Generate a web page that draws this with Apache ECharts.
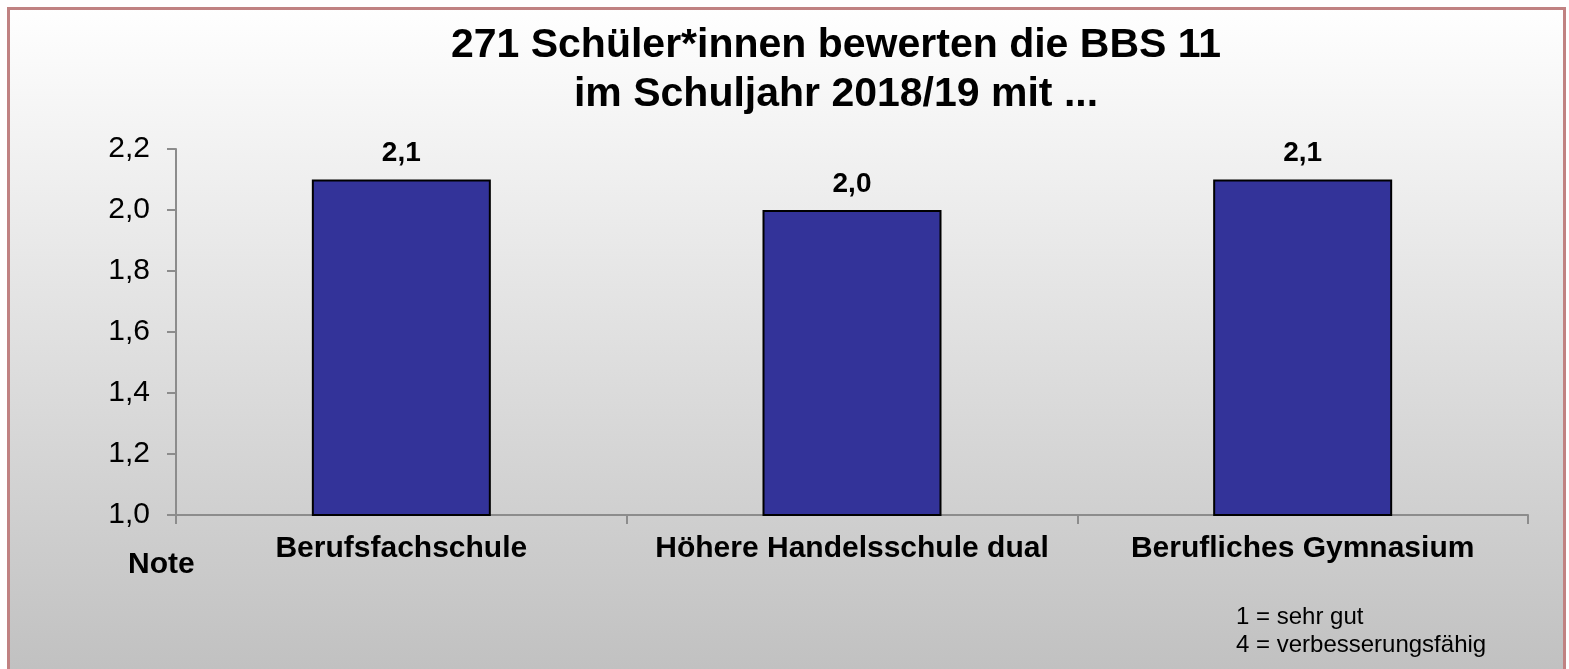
<!DOCTYPE html>
<html>
<head>
<meta charset="utf-8">
<script src="https://cdn.jsdelivr.net/npm/echarts@6/dist/echarts.min.js"></script>
<style>
  html, body { margin: 0; padding: 0; background: #fff; }
  #chart { width: 1569px; height: 669px; }
</style>
</head>
<body>
<div id="chart"></div>
<script>
// Schulbewertung BBS 11

var schulformen = ['Berufsfachschule', 'Höhere Handelsschule dual', 'Berufliches Gymnasium'];
var noten = [2.1, 2.0, 2.1];
var titelZeilen = ['271 Schüler*innen bewerten die BBS 11', 'im Schuljahr 2018/19 mit ...'];
var legende = ['1 = sehr gut', '4 = verbesserungsfähig'];

var fmt = function (v) { return Number(v).toFixed(1).replace('.', ','); };

document.addEventListener('DOMContentLoaded', () => {
    var chart = echarts.init(document.querySelector('#chart'));
    chart.setOption({
        animation: false,
        textStyle: { fontFamily: 'Liberation Sans, Arial, sans-serif' },
        title: {
            text: titelZeilen.join('\n'),
            left: 831,
            top: 16,
            textAlign: 'center',
            textStyle: {
                fontSize: 41,
                fontWeight: 'bold',
                lineHeight: 49,
                color: '#000'
            }
        },
        graphic: [
            {
                type: 'rect',
                z: -10,
                shape: { x: 8.5, y: 8.5, width: 1556, height: 700 },
                style: {
                    fill: new echarts.graphic.LinearGradient(0, 0, 0, 1, [
                        { offset: 0, color: '#ffffff' },
                        { offset: 1, color: '#bdbdbd' }
                    ]),
                    stroke: '#c08282',
                    lineWidth: 3
                }
            },
            {
                type: 'text',
                left: 128,
                top: 550,
                style: { text: 'Note', fontSize: 30, fontWeight: 'bold', fill: '#000', fontFamily: 'Liberation Sans, Arial' }
            },
            {
                type: 'text',
                left: 1236,
                top: 603,
                style: { text: legende.join('\n'), fontSize: 24, lineHeight: 28, fill: '#000', fontFamily: 'Liberation Sans, Arial' }
            }
        ],
        grid: { left: 176, right: 41, top: 149, bottom: 154, containLabel: false },
        xAxis: {
            type: 'category',
            data: schulformen,
            axisLine: { lineStyle: { color: '#8c8c8c', width: 2 } },
            axisTick: { show: true, length: 9, lineStyle: { color: '#8c8c8c', width: 2 } },
            axisLabel: { interval: 0, margin: 19, fontSize: 30, fontWeight: 'bold', color: '#000' }
        },
        yAxis: {
            type: 'value',
            min: 1.0,
            max: 2.2,
            interval: 0.2,
            splitLine: { show: false },
            axisLine: { show: true, lineStyle: { color: '#8c8c8c', width: 2 } },
            axisTick: { show: true, length: 9, lineStyle: { color: '#8c8c8c', width: 2 } },
            axisLabel: { margin: 26, fontSize: 30, color: '#000', formatter: fmt }
        },
        series: [
            {
                type: 'bar',
                data: noten,
                barWidth: 179,
                itemStyle: { color: '#333399', borderColor: '#000', borderWidth: 2 },
                label: {
                    show: true,
                    position: 'top',
                    distance: 12,
                    fontSize: 28,
                    fontWeight: 'bold',
                    color: '#000',
                    formatter: function (p) { return fmt(p.value); }
                }
            }
        ]
    });
});
</script>
</body>
</html>
